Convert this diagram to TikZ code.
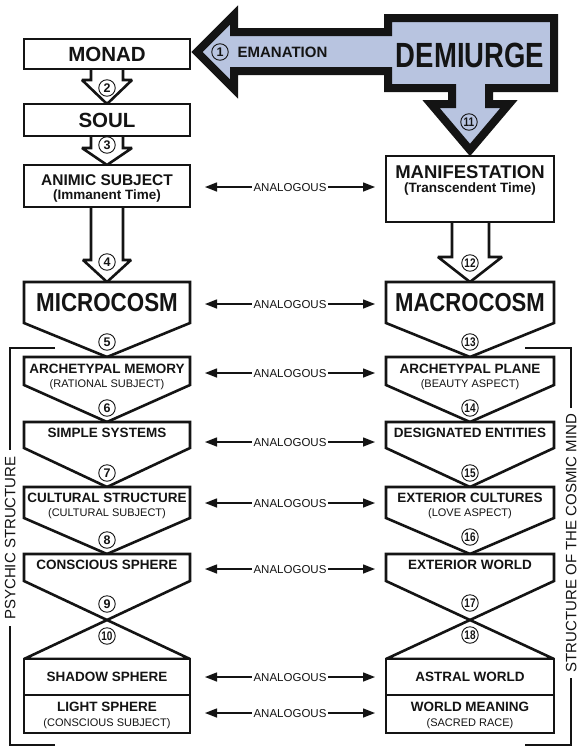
\documentclass[tikz,border=0pt]{standalone}
\usepackage{fontspec}
\usepackage{graphicx}
\setmainfont{Liberation Sans}
\usetikzlibrary{arrows.meta}
\definecolor{demi}{RGB}{184,196,224}
\definecolor{ink}{RGB}{20,20,20}
\tikzset{
  demibox/.style={draw=ink, line width=8pt, fill=demi, line join=miter},
  blk/.style={draw=ink, line width=2.6pt, fill=white, line join=miter, miter limit=2},
  ttl/.style={font=\fontsize{13.5}{16}\selectfont\bfseries, inner sep=0pt, text height=9.7pt, text depth=0pt, text=ink},
  sub/.style={font=\fontsize{11}{13}\selectfont, inner sep=0pt, text height=7.9pt, text depth=0pt, text=ink},
  subb/.style={font=\fontsize{13.5}{16}\selectfont\bfseries, inner sep=0pt, text height=9.7pt, text depth=0pt, text=ink},
  mid/.style={font=\fontsize{15.5}{18}\selectfont\bfseries, inner sep=0pt, text height=11.1pt, text depth=0pt, text=ink},
  midb/.style={font=\fontsize{18.5}{22}\selectfont\bfseries, inner sep=0pt, text height=13.2pt, text depth=0pt, text=ink},
  big/.style={font=\fontsize{20.5}{24}\selectfont\bfseries, inner sep=0pt, text height=14.7pt, text depth=0pt, text=ink},
  huge/.style={font=\fontsize{26}{30}\selectfont\bfseries, inner sep=0pt, text height=18.6pt, text depth=0pt, text=ink},
  demitxt/.style={font=\fontsize{35}{40}\selectfont\bfseries, inner sep=0pt, text height=25pt, text depth=0pt, text=ink},
  ematxt/.style={font=\fontsize{15}{18}\selectfont\bfseries, inner sep=0pt, text height=10.7pt, text depth=0pt, text=ink},
  num/.style={circle, draw=ink, line width=0.9pt, minimum size=16.5pt, inner sep=0pt, font=\fontsize{12.5}{13}\selectfont\bfseries, text=ink},
  anl/.style={font=\fontsize{11.5}{13}\selectfont, inner sep=1.5pt, text height=8.2pt, text depth=0pt, text=ink},
  anarrow/.style={draw=ink, line width=1.4pt, -{Triangle[length=12pt,width=9pt]}},
  side/.style={font=\fontsize{15}{18}\selectfont, inner sep=6pt, text height=10.7pt, text depth=0pt, text=ink},
  bracket/.style={draw=ink, line width=1.3pt},
}
\begin{document}
\begin{tikzpicture}[x=1pt,y=-1pt]
\fill[white] (0,0) rectangle (580,753);
\useasboundingbox (0,0) rectangle (580,753);

% ---- Demiurge block arrow
\draw[demibox] (197,52) -- (234,15) -- (234,32) -- (388,32) -- (388,18) -- (554,18)
  -- (554,88) -- (489,88) -- (489,104) -- (509,104) -- (470,150) -- (431,104)
  -- (452,104) -- (452,88) -- (388,88) -- (388,71) -- (234,71) -- (234,89) -- cycle;

% ---- small block arrows
\draw[blk] (91,68) -- (91,80) -- (82,80) -- (107,104) -- (132,80) -- (123,80) -- (123,68);
\draw[blk] (91,136) -- (91,148) -- (82,148) -- (107,165) -- (132,148) -- (123,148) -- (123,136);
\draw[blk] (91,207) -- (91,260) -- (83,260) -- (107,282) -- (131,260) -- (123,260) -- (123,207);
\draw[blk] (452,222) -- (452,257) -- (438,257) -- (470,282) -- (502,257) -- (489,257) -- (489,222);

% ---- top boxes
\draw[blk] (24,39) rectangle (190,69);
\draw[blk] (24,104) rectangle (190,136);
\draw[blk] (24,165) rectangle (190,207);
\draw[blk] (386,156) rectangle (554,222);

% ---- columns
\foreach \L/\C/\R in {24/107/190, 386/470/554}{
  \draw[blk] (\L,282) -- (\R,282) -- (\R,323) -- (\C,357) -- (\L,323) -- cycle;
  \draw[blk] (\L,357) -- (\R,357) -- (\R,385) -- (\C,422) -- (\L,385) -- cycle;
  \draw[blk] (\L,422) -- (\R,422) -- (\R,448) -- (\C,487) -- (\L,448) -- cycle;
  \draw[blk] (\L,487) -- (\R,487) -- (\R,518) -- (\C,554) -- (\L,518) -- cycle;
  \draw[blk] (\L,581) -- (\L,554) -- (\R,554) -- (\R,581) -- (\L,659) -- (\R,659) -- cycle;
  \draw[blk] (\L,659) rectangle (\R,695);
  \draw[blk] (\L,695) rectangle (\R,733);
}

% ---- texts
\node[demitxt] (demiurge) at (470,54.5) {\scalebox{0.785}[1]{DEMIURGE}};
\node[ematxt] (emanation) at (282.5,52) {EMANATION};
\node[big] (monad) at (107,54.5) {MONAD};
\node[big] (soul) at (107,120.5) {SOUL};
\node[mid] (animic) at (107,180) {ANIMIC SUBJECT};
\node[subb] (animicS) at (107,194.5) {(Immanent Time)};
\node[midb] (manif) at (470,172) {MANIFESTATION};
\node[subb] (manifS) at (470,188) {(Transcendent Time)};
\node[huge] (micro) at (107,302.5) {\scalebox{0.86}[1]{MICROCOSM}};
\node[huge] (macro) at (470,302.5) {\scalebox{0.85}[1]{MACROCOSM}};

\node[ttl] (archM) at (107,369) {ARCHETYPAL MEMORY};
\node[sub] (archMS) at (107,383.5) {(RATIONAL SUBJECT)};
\node[ttl] (simple) at (107,433) {SIMPLE SYSTEMS};
\node[ttl] (cultS) at (107,498) {CULTURAL STRUCTURE};
\node[sub] (cultSS) at (107,512.5) {(CULTURAL SUBJECT)};
\node[ttl] (consc) at (107,565) {CONSCIOUS SPHERE};
\node[ttl] (shadow) at (107,677) {SHADOW SPHERE};
\node[ttl] (light) at (107,707) {LIGHT SPHERE};
\node[sub] (lightS) at (107,722.5) {(CONSCIOUS SUBJECT)};

\node[ttl] (archP) at (470,369) {ARCHETYPAL PLANE};
\node[sub] (archPS) at (470,383.5) {(BEAUTY ASPECT)};
\node[ttl] (design) at (470,433) {DESIGNATED ENTITIES};
\node[ttl] (extC) at (470,498) {EXTERIOR CULTURES};
\node[sub] (extCS) at (470,512.5) {(LOVE ASPECT)};
\node[ttl] (extW) at (470,565) {EXTERIOR WORLD};
\node[ttl] (astral) at (470,677) {ASTRAL WORLD};
\node[ttl] (worldM) at (470,707) {WORLD MEANING};
\node[sub] (worldMS) at (470,722.5) {(SACRED RACE)};

% ---- numbers
\node[num] (n1) at (220,52) {1};
\node[num] (n2) at (107,88) {2};
\node[num] (n3) at (107,145) {3};
\node[num] (n4) at (107,262) {4};
\node[num] (n5) at (107,342) {5};
\node[num] (n6) at (107,408) {6};
\node[num] (n7) at (107,473) {7};
\node[num] (n8) at (107,540) {8};
\node[num] (n9) at (107,604) {9};
\node[num] (n10) at (107,636) {\scalebox{0.8}[1]{10}};
\node[num] (n11) at (469,122) {\scalebox{0.8}[1]{11}};
\node[num] (n12) at (470,263) {\scalebox{0.8}[1]{12}};
\node[num] (n13) at (470,342) {\scalebox{0.8}[1]{13}};
\node[num] (n14) at (470,408) {\scalebox{0.8}[1]{14}};
\node[num] (n15) at (470,473) {\scalebox{0.8}[1]{15}};
\node[num] (n16) at (470,537) {\scalebox{0.8}[1]{16}};
\node[num] (n17) at (470,603) {\scalebox{0.8}[1]{17}};
\node[num] (n18) at (470,635) {\scalebox{0.8}[1]{18}};

% ---- analogous connectors
\foreach \i/\y in {1/187, 2/304, 3/373, 4/442, 5/503, 6/569, 7/677, 8/713}{
  \node[anl] (a\i) at (290,\y) {ANALOGOUS};
  \coordinate (al\i) at (205,\y);
  \coordinate (ar\i) at (375,\y);
  \draw[anarrow] (a\i.west) -- (al\i);
  \draw[anarrow] (a\i.east) -- (ar\i);
}

% ---- side brackets
\node[side, rotate=90] (psy) at (10,538) {PSYCHIC STRUCTURE};
\node[side, rotate=90] (cos) at (571,543) {STRUCTURE OF THE COSMIC MIND};
\coordinate (pl1) at (55,348);
\coordinate (pl2) at (55,745);
\coordinate (pr1) at (525,348);
\coordinate (pr2) at (525,745);
\draw[bracket] (pl1) -| (psy.east);
\draw[bracket] (pl2) -| (psy.west);
\draw[bracket] (pr1) -| (cos.east);
\draw[bracket] (pr2) -| (cos.west);
\end{tikzpicture}
\end{document}
